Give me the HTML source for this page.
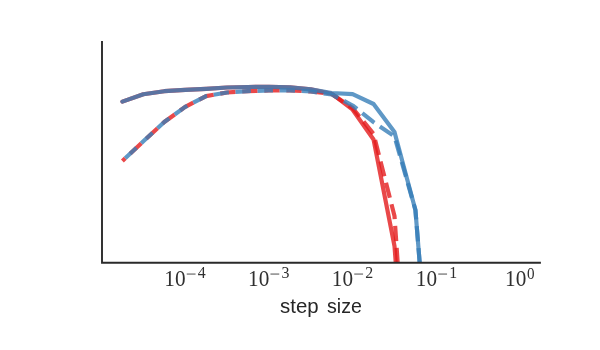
<!DOCTYPE html>
<html><head><meta charset="utf-8"><style>
html,body{margin:0;padding:0;background:#fff;}
body{width:600px;height:350px;overflow:hidden;}
svg{display:block;will-change:transform;transform:translateZ(0);}
.t text{font-family:"Liberation Serif",serif;fill:#303030;}
.l{font-family:"Liberation Sans",sans-serif;fill:#262626;font-size:20px;}
</style></head><body>
<svg width="600" height="350" viewBox="0 0 600 350">
<rect width="600" height="350" fill="#fff"/>
<defs><clipPath id="c"><rect x="102" y="41" width="439" height="221.7"/></clipPath></defs>
<g clip-path="url(#c)" fill="none" stroke-width="4.17" stroke-linejoin="round" stroke-opacity="0.8">
<polyline points="122.40,101.60 143.33,94.20 164.26,91.20 185.19,89.90 206.12,88.90 227.05,87.50 247.98,87.00 268.91,86.80 289.84,87.30 310.77,89.40 331.70,93.70 352.63,109.70 373.56,139.50 394.49,246.00 415.42,525.00" stroke="#e41a1c" stroke-linecap="round"/>
<polyline points="122.40,161.00 143.33,141.30 164.26,122.00 185.19,106.90 206.12,96.10 227.05,92.50 247.98,91.10 268.91,90.50 289.84,90.30 310.77,91.50 331.70,94.00 352.63,108.00 373.56,134.00 394.49,216.00 415.42,523.00" stroke="#e41a1c" stroke-dasharray="15.4 6.67" stroke-dashoffset="11.5"/>
<polyline points="122.40,101.60 143.33,94.20 164.26,91.20 185.19,89.90 206.12,88.90 227.05,87.50 247.98,87.00 268.91,86.80 289.84,87.30 310.77,89.40 331.70,93.00 352.63,94.20 373.56,104.00 394.49,132.00 415.42,210.00 436.35,469.00" stroke="#377eb8" stroke-linecap="round"/>
<polyline points="122.40,161.00 143.33,141.30 164.26,122.00 185.19,106.90 206.12,96.10 227.05,92.50 247.98,91.10 268.91,90.50 289.84,90.30 310.77,91.50 331.70,94.50 352.63,105.50 373.56,122.10 394.49,136.40 415.42,210.00 436.35,469.00" stroke="#377eb8" stroke-dasharray="15.4 6.67" stroke-dashoffset="18.2"/>
</g>
<path d="M102 41 V262.7 H540.9" fill="none" stroke="#2a2a2a" stroke-width="1.9" stroke-linejoin="miter"/>
<g class="t"><text transform="translate(164.35,286.05) scale(0.9,1)" font-size="23.6">10</text><rect x="186.75" y="273.6" width="8.8" height="0.9" fill="#3a3a3a"/><text x="197.75" y="278.35" font-size="15.9">4</text><text transform="translate(248.05,286.05) scale(0.9,1)" font-size="23.6">10</text><rect x="270.45" y="273.6" width="8.8" height="0.9" fill="#3a3a3a"/><text x="281.45" y="278.35" font-size="15.9">3</text><text transform="translate(331.85,286.05) scale(0.9,1)" font-size="23.6">10</text><rect x="354.25" y="273.6" width="8.8" height="0.9" fill="#3a3a3a"/><text x="365.25" y="278.35" font-size="15.9">2</text><text transform="translate(415.85,286.05) scale(0.9,1)" font-size="23.6">10</text><rect x="438.25" y="273.6" width="8.8" height="0.9" fill="#3a3a3a"/><text x="449.25" y="278.35" font-size="15.9">1</text><text transform="translate(505.10,286.05) scale(0.9,1)" font-size="23.6">10</text><text transform="translate(527.10,278.7) scale(0.88,1)" font-size="17.2">0</text></g>
<text class="l" x="280.0" y="312.5" textLength="38.6" lengthAdjust="spacingAndGlyphs">step</text><text class="l" x="327.0" y="312.5" textLength="34.8" lengthAdjust="spacingAndGlyphs">size</text>
</svg>
</body></html>
